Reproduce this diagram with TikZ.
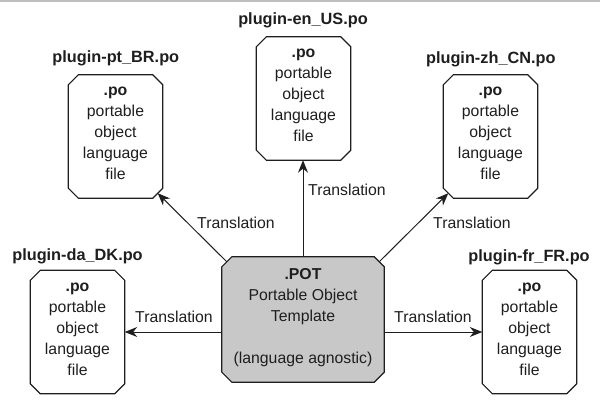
\documentclass[tikz,border=0pt]{standalone}
\usepackage{fontspec}
\setmainfont{Liberation Sans}
\usetikzlibrary{arrows.meta}
\pgfdeclarelayer{background}
\pgfsetlayers{background,main}
\definecolor{ink}{RGB}{30,30,30}
\definecolor{potfill}{RGB}{200,200,200}
\definecolor{topline}{RGB}{190,190,190}
\newcommand\octoframe[2]{%
  \begin{pgfonlayer}{background}
    \draw[boxline,#2]
      ([xshift=10pt]#1.north west) -- ([xshift=-10pt]#1.north east) --
      ([yshift=-10pt]#1.north east) -- ([yshift=10pt]#1.south east) --
      ([xshift=-10pt]#1.south east) -- ([xshift=10pt]#1.south west) --
      ([yshift=10pt]#1.south west) -- ([yshift=-10pt]#1.north west) -- cycle;
  \end{pgfonlayer}}
\tikzset{
  boxline/.style={draw=ink, line width=1.2pt, line join=miter},
  boxnode/.style={minimum width=94pt, minimum height=123pt, inner sep=0pt,
    align=center, text=ink, font=\fontsize{15.8}{21}\selectfont,
    execute at begin node=\strut, execute at end node=\strut},
  heading/.style={font=\bfseries\fontsize{16.3}{20}\selectfont, text=ink,
    anchor=base, inner sep=0pt},
  translabel/.style={font=\fontsize{15.8}{20}\selectfont, text=ink,
    anchor=base, inner sep=0pt},
  arrowline/.style={draw=ink, line width=1pt,
    -{Stealth[length=12.5pt,width=10pt]}}
}
\begin{document}
\begin{tikzpicture}[x=1pt,y=-1pt]
\useasboundingbox (0,0) rectangle (600,404);
\draw[topline, line width=2pt] (0,1) -- (600,1);

\node[boxnode] (ptBR) at (115.5,136.5) {\textbf{.po}\\portable\\object\\language\\file};
\node[boxnode] (enUS) at (303.5,98.5) {\textbf{.po}\\portable\\object\\language\\file};
\node[boxnode] (zhCN) at (490.5,136.5) {\textbf{.po}\\portable\\object\\language\\file};
\node[boxnode] (daDK) at (77.5,332) {\textbf{.po}\\portable\\object\\language\\file};
\node[boxnode] (frFR) at (529.5,332) {\textbf{.po}\\portable\\object\\language\\file};
\node[boxnode, minimum width=162pt, minimum height=125pt] (pot) at (303,319.5)
  {\textbf{.POT}\\Portable Object\\Template\\\mbox{}\\(language agnostic)};

\octoframe{ptBR}{}
\octoframe{enUS}{}
\octoframe{zhCN}{}
\octoframe{daDK}{}
\octoframe{frFR}{}
\octoframe{pot}{fill=potfill}

\node[heading] (hptBR) at (115.8,63) {plugin-pt\_BR.po};
\node[heading] (henUS) at (303,25) {plugin-en\_US.po};
\node[heading] (hzhCN) at (490.8,64) {plugin-zh\_CN.po};
\node[heading] (hdaDK) at (77.5,260) {plugin-da\_DK.po};
\node[heading] (hfrFR) at (529,261) {plugin-fr\_FR.po};

\draw[arrowline] ([xshift=5pt,yshift=-5pt]pot.north west) -- ([xshift=-5pt,yshift=5pt]ptBR.south east);
\draw[arrowline] (pot.north) -- (pot.north |- enUS.south);
\draw[arrowline] ([xshift=-5pt,yshift=-5pt]pot.north east) -- ([xshift=5pt,yshift=5pt]zhCN.south west);
\draw[arrowline] (pot.west |- daDK.east) -- (daDK.east);
\draw[arrowline] (pot.east |- frFR.west) -- (frFR.west);

\node[translabel] (tptBR) at (236,228) {Translation};
\node[translabel] (tenUS) at (347,195) {Translation};
\node[translabel] (tzhCN) at (472,228) {Translation};
\node[translabel] (tdaDK) at (174,322) {Translation};
\node[translabel] (tfrFR) at (433,322) {Translation};
\end{tikzpicture}
\end{document}
